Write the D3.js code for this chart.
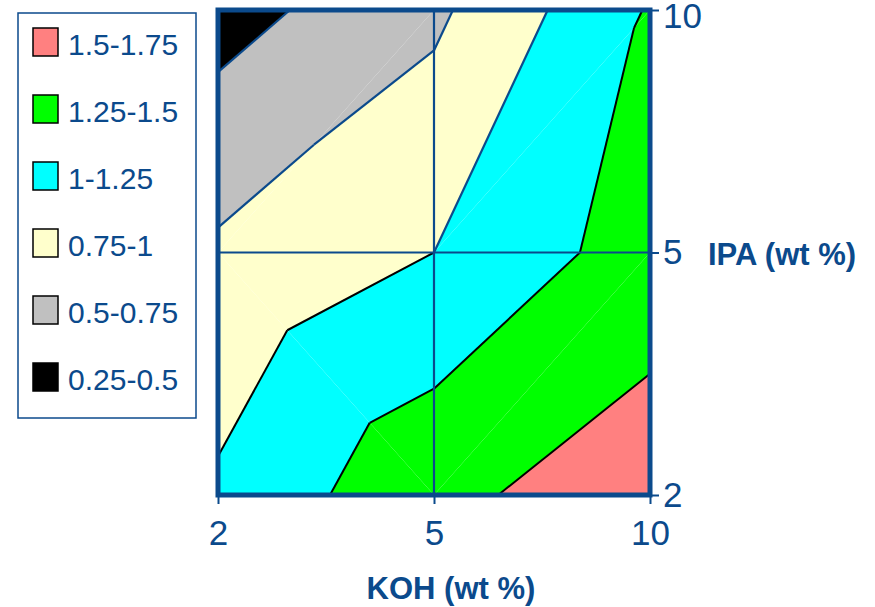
<!DOCTYPE html>
<html>
<head>
<meta charset="utf-8">
<script src="https://cdn.jsdelivr.net/npm/d3@7"></script>
<style>
  body { margin: 0; background: #fff; }
  text { font-family: "Liberation Sans", Arial, sans-serif; }
</style>
</head>
<body>
<svg id="chart" width="875" height="607"></svg>
<script>
// categories
var kohLabels = ["2", "5", "10"];
var ipaLabels = ["2", "5", "10"];
// surface values, one row per IPA level (2, 5, 10), columns KOH 2, 5, 10
var rowIpa2 = [1.04, 1.445, 1.63];
var rowIpa5 = [0.79, 1.00, 1.37];
var rowIpa10 = [0.40, 0.70, 1.27];
// bands, top of legend first
var bandLabels = ["1.5-1.75", "1.25-1.5", "1-1.25", "0.75-1", "0.5-0.75", "0.25-0.5"];
var bandLo = [1.5, 1.25, 1.0, 0.75, 0.5, 0.25];
var bandHi = [1.75, 1.5, 1.25, 1.0, 0.75, 0.5];
var bandColors = ["#ff8080", "#00ff00", "#00ffff", "#ffffcc", "#c0c0c0", "#000000"];
var levels = [0.5, 0.75, 1.0, 1.25, 1.5];

var blue = "#0b4a8c";
var z = [rowIpa2, rowIpa5, rowIpa10];

var svg = d3.select("#chart");
var x = d3.scalePoint().domain(kohLabels).range([218, 650]);
var y = d3.scalePoint().domain(ipaLabels).range([495, 10]);

function pt(i, j) {
    return { x: x(kohLabels[i]), y: y(ipaLabels[j]), z: z[j][i], row: j };
}

// split each cell along the diagonal with the larger sum
var tris = [];
for (var j = 0; j < 2; j++) {
    for (var i = 0; i < 2; i++) {
        var a = pt(i, j), b = pt(i + 1, j), c = pt(i + 1, j + 1), d = pt(i, j + 1);
        if (a.z + c.z >= b.z + d.z) {
            tris.push({ p: [a, b, c], top: j == 1 });
            tris.push({ p: [a, c, d], top: j == 1 });
        } else {
            tris.push({ p: [a, b, d], top: j == 1 });
            tris.push({ p: [b, c, d], top: j == 1 });
        }
    }
}

function lerp(p, q, v) {
    var t = (v - p.z) / (q.z - p.z);
    return { x: p.x + (q.x - p.x) * t, y: p.y + (q.y - p.y) * t, z: v };
}
// keep part of polygon where sign*(z - v) >= 0
function clip(poly, v, sign) {
    var out = [];
    for (var k = 0; k < poly.length; k++) {
        var p = poly[k], q = poly[(k + 1) % poly.length];
        var pin = sign * (p.z - v) >= 0, qin = sign * (q.z - v) >= 0;
        if (pin) out.push(p);
        if (pin != qin) out.push(lerp(p, q, v));
    }
    return out;
}

var line = d3.line().x(function(d) { return d.x; }).y(function(d) { return d.y; });

var fills = svg.append("g");
tris.forEach(function(t) {
    for (var b = 0; b < bandLo.length; b++) {
        var poly = clip(clip(t.p, bandLo[b], 1), bandHi[b], -1);
        if (poly.length < 3) continue;
        fills.append("path")
            .attr("d", line(poly) + "Z")
            .attr("fill", bandColors[b]);
    }
});

// contour lines
var lines = svg.append("g").attr("fill", "none");
tris.forEach(function(t) {
    levels.forEach(function(v) {
        var pts = [];
        for (var k = 0; k < 3; k++) {
            var p = t.p[k], q = t.p[(k + 1) % 3];
            if (p.z == v) pts.push({ x: p.x, y: p.y });
            else if ((p.z - v) * (q.z - v) < 0) pts.push(lerp(p, q, v));
        }
        if (pts.length < 2) return;
        if (Math.abs(pts[0].x - pts[1].x) < 0.01 && Math.abs(pts[0].y - pts[1].y) < 0.01) return;
        var isBlue = t.top && v <= 1.0;
        lines.append("path")
            .attr("d", line(pts.slice(0, 2)))
            .attr("stroke", isBlue ? blue : "#000")
            .attr("stroke-width", isBlue ? 2.2 : 2);
    });
});

// gridlines
svg.append("line").attr("x1", x("5")).attr("x2", x("5"))
    .attr("y1", y("10")).attr("y2", y("2"))
    .attr("stroke", blue).attr("stroke-width", 2.2);
svg.append("line").attr("x1", x("2")).attr("x2", x("10"))
    .attr("y1", y("5")).attr("y2", y("5"))
    .attr("stroke", blue).attr("stroke-width", 2.2);

// frame
svg.append("rect")
    .attr("x", x("2")).attr("y", y("10"))
    .attr("width", x("10") - x("2")).attr("height", y("2") - y("10"))
    .attr("fill", "none").attr("stroke", blue).attr("stroke-width", 5);

// bottom axis
var xAxis = svg.append("g").attr("transform", "translate(0," + y("2") + ")")
    .call(d3.axisBottom(x).tickSizeInner(9).tickSizeOuter(0).tickPadding(16));
xAxis.select(".domain").remove();
xAxis.selectAll("line").attr("stroke", blue).attr("stroke-width", 2);
xAxis.selectAll("text").attr("fill", blue).attr("font-size", 35)
    .attr("font-family", "Liberation Sans, Arial, sans-serif");

// right axis
var yAxis = svg.append("g").attr("transform", "translate(" + x("10") + ",0)")
    .call(d3.axisRight(y).tickSizeInner(9).tickSizeOuter(0).tickPadding(4));
yAxis.select(".domain").remove();
yAxis.selectAll("line").attr("stroke", blue).attr("stroke-width", 2);
yAxis.selectAll("text").attr("fill", blue).attr("font-size", 35)
    .attr("font-family", "Liberation Sans, Arial, sans-serif");
// keep the top label inside the picture
yAxis.selectAll("text").filter(function(d) { return d == "10"; }).attr("dy", "0.38em").attr("y", 4);

svg.append("text").attr("x", 451).attr("y", 599)
    .attr("text-anchor", "middle").attr("fill", blue)
    .attr("font-size", 31).attr("font-weight", "bold")
    .text("KOH (wt %)");
svg.append("text").attr("x", 708).attr("y", 265)
    .attr("fill", blue)
    .attr("font-size", 31).attr("font-weight", "bold")
    .text("IPA (wt %)");

// legend
var legend = svg.append("g");
legend.append("rect").attr("x", 18).attr("y", 13).attr("width", 178).attr("height", 405)
    .attr("fill", "#fff").attr("stroke", blue).attr("stroke-width", 1.5);
var rows = legend.selectAll("g.row").data(bandLabels).enter().append("g")
    .attr("transform", function(d, k) { return "translate(0," + (28 + k * 67) + ")"; });
rows.append("rect").attr("x", 33).attr("y", 0).attr("width", 25).attr("height", 28)
    .attr("fill", function(d, k) { return bandColors[k]; })
    .attr("stroke", "#000").attr("stroke-width", 1.5);
rows.append("text").attr("x", 68).attr("y", 27)
    .attr("fill", blue).attr("font-size", 30)
    .text(function(d) { return d; });
</script>
</body>
</html>
